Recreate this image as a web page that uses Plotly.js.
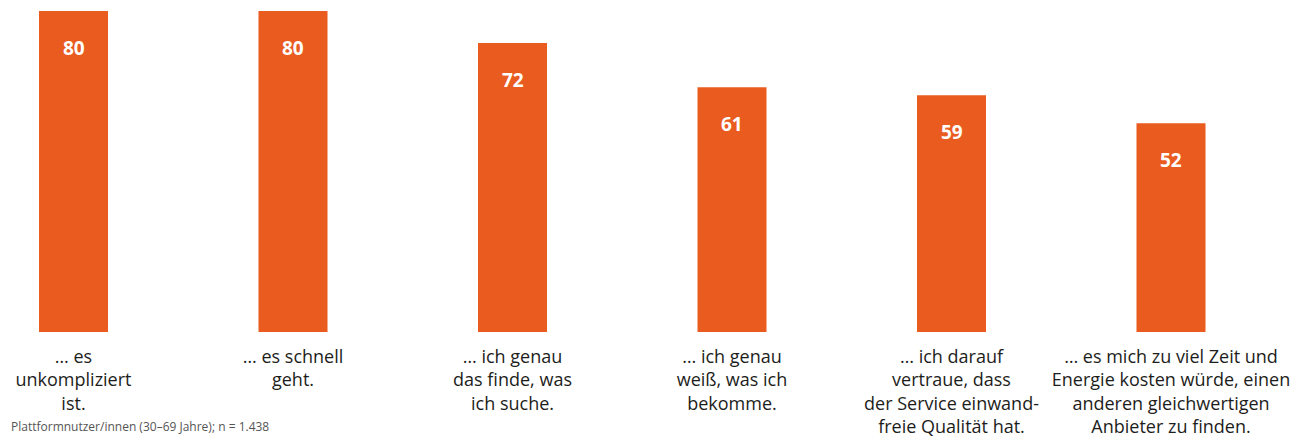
<!DOCTYPE html>
<html>
<head>
<meta charset="utf-8">
<script src="https://cdn.plot.ly/plotly-3.0.1.min.js"></script>
<style>html,body{margin:0;padding:0;background:#fff;}#chart{width:1309px;height:438px;}</style>
</head>
<body>
<div id="chart"></div>
<script>
var categories = [
  "… es<br>unkompliziert<br>ist.",
  "… es schnell<br>geht.",
  "… ich genau<br>das finde, was<br>ich suche.",
  "… ich genau<br>weiß, was ich<br>bekomme.",
  "… ich darauf<br>vertraue, dass<br>der Service einwand-<br>freie Qualität hat.",
  "… es mich zu viel Zeit und<br>Energie kosten würde, einen<br>anderen gleichwertigen<br>Anbieter zu finden."
];
var values = [80, 80, 72, 61, 59, 52];
var footnote = "Plattformnutzer/innen (30–69 Jahre); n = 1.438";

var idx = categories.map(function(_, i){ return i; });

var annotations = values.map(function(v, i){
  return {x: i, y: v, xref: 'x', yref: 'y', text: '<b>' + v + '</b>', showarrow: false,
    yanchor: 'middle', yshift: -37, font: {family: 'Open Sans, sans-serif', size: 19, color: '#ffffff'}};
});
annotations.push({x: 10/1309, y: -0.313, xref: 'paper', yref: 'paper', xanchor: 'left', yanchor: 'bottom',
  text: footnote, showarrow: false, borderpad: 0, font: {family: 'Open Sans, sans-serif', size: 12, color: '#555555'}});

var trace = {
  type: 'bar', x: idx, y: values, width: 0.3144,
  marker: {color: '#EA5B1F'}, hoverinfo: 'skip'
};

var layout = {
  width: 1309, height: 438,
  margin: {l: 0, r: 0, t: 0, b: 106},
  paper_bgcolor: '#ffffff', plot_bgcolor: '#ffffff',
  showlegend: false,
  xaxis: {
    range: [-0.3349, 5.6287], tickmode: 'array', tickvals: idx, ticktext: categories,
    showgrid: false, zeroline: false, showline: false, ticks: '',
    tickfont: {family: 'Open Sans, sans-serif', size: 18, color: '#1d1d1b'}, ticklabelstandoff: 12
  },
  yaxis: {range: [0, 82.74], showgrid: false, zeroline: false, showticklabels: false, showline: false},
  annotations: annotations
};

Plotly.newPlot('chart', [trace], layout, {staticPlot: true, displayModeBar: false});
</script>
</body>
</html>
